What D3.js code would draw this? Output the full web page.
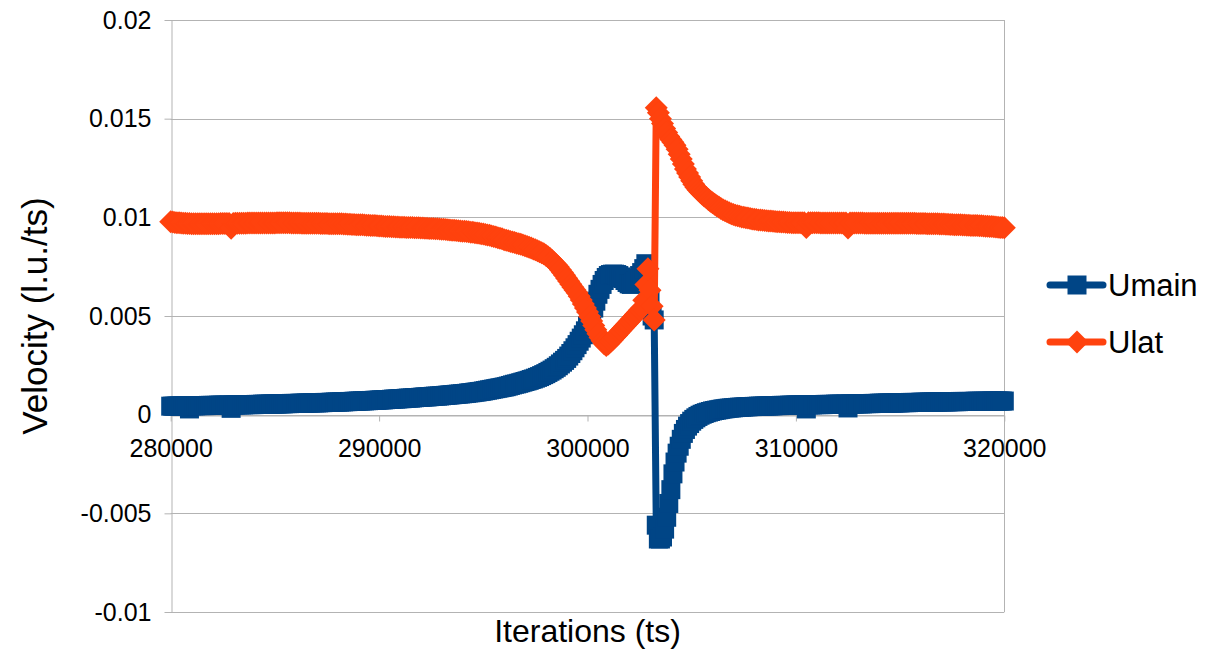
<!DOCTYPE html>
<html>
<head>
<meta charset="utf-8">
<script src="https://cdn.jsdelivr.net/npm/d3@7"></script>
<style>
  body { margin: 0; background: #ffffff; }
  text { font-family: "Liberation Sans", Arial, sans-serif; fill: #000; }
</style>
</head>
<body>
<svg id="chart" width="1210" height="650"></svg>
<script>
// Sampling of the run: one record every 100 iterations
const iterStart = 280000;
const iterEnd = 320000;
const iterStep = 100;

const xTicks = [280000, 290000, 300000, 310000, 320000];
const yTicks = [-0.01, -0.005, 0, 0.005, 0.01, 0.015, 0.02];
const seriesNames = ["Umain", "Ulat"];
const seriesColors = ["#004586", "#ff420e"];

// Main-channel velocity (l.u./ts), 280000 .. 320000 step 100
const umain = [
  0.00043,0.00043,0.00043,0.00044,0.00044,0.00044,0.00044,0.00044,0.00045,0.00029,
  0.00045,0.00045,0.00045,0.00046,0.00046,0.00046,0.00046,0.00046,0.00047,0.00047,
  0.00047,0.00047,0.00047,0.00048,0.00048,0.00048,0.00048,0.00048,0.00049,0.00032,
  0.00049,0.00049,0.0005,0.0005,0.0005,0.0005,0.00051,0.00051,0.00051,0.00051,
  0.00051,0.00052,0.00052,0.00052,0.00053,0.00053,0.00053,0.00053,0.00054,0.00054,
  0.00054,0.00054,0.00055,0.00055,0.00055,0.00056,0.00056,0.00056,0.00057,0.00057,
  0.00057,0.00057,0.00058,0.00058,0.00058,0.00059,0.00059,0.00059,0.0006,0.0006,
  0.0006,0.0006,0.00061,0.00061,0.00062,0.00062,0.00062,0.00063,0.00063,0.00064,
  0.00064,0.00064,0.00065,0.00065,0.00066,0.00066,0.00067,0.00067,0.00068,0.00068,
  0.00069,0.00069,0.0007,0.0007,0.00071,0.00071,0.00072,0.00072,0.00073,0.00073,
  0.00074,0.00075,0.00075,0.00076,0.00077,0.00077,0.00078,0.00079,0.00079,0.0008,
  0.00081,0.00081,0.00082,0.00083,0.00084,0.00084,0.00085,0.00086,0.00087,0.00087,
  0.00088,0.00089,0.0009,0.0009,0.00091,0.00092,0.00093,0.00094,0.00094,0.00095,
  0.00096,0.00097,0.00098,0.00099,0.001,0.00101,0.00102,0.00103,0.00104,0.00105,
  0.00106,0.00107,0.00108,0.0011,0.00111,0.00112,0.00114,0.00115,0.00117,0.00118,
  0.0012,0.00122,0.00124,0.00126,0.00128,0.0013,0.00132,0.00134,0.00136,0.00138,
  0.0014,0.00142,0.00145,0.00148,0.00151,0.00154,0.00156,0.00159,0.00162,0.00165,
  0.00168,0.00171,0.00174,0.00178,0.00181,0.00185,0.00189,0.00193,0.00198,0.00203,
  0.00208,0.00214,0.0022,0.00226,0.00233,0.0024,0.00248,0.00257,0.00266,0.00275,
  0.00285,0.00297,0.0031,0.00324,0.00339,0.00355,0.00372,0.00388,0.00405,0.00425,
  0.0045,0.0047,0.005,0.0054,0.00575,0.0061,0.00635,0.0066,0.0068,0.00695,
  0.00705,0.0071,0.00712,0.00712,0.0071,0.00705,0.00698,0.0069,0.0068,0.0067,
  0.00663,0.0066,0.00665,0.00675,0.0069,0.00705,0.0072,0.0074,0.00765,0.0068,
  0.0058,0.005,0.0048,-0.0056,-0.0063,-0.0063,-0.0062,-0.0058,-0.0052,-0.0045,
  -0.0038,-0.003,-0.0024,-0.00195,-0.0016,-0.00125,-0.00095,-0.00075,-0.00058,-0.00045,
  -0.00033,-0.00024,-0.00016,-0.00009,-0.00003,0.00002,0.00006,0.0001,0.00013,0.00016,
  0.00019,0.00021,0.00023,0.00025,0.00027,0.00029,0.0003,0.00032,0.00033,0.00034,
  0.00035,0.00036,0.00037,0.00038,0.00038,0.00039,0.0004,0.0004,0.00041,0.00041,
  0.00042,0.00042,0.00043,0.00043,0.00043,0.00044,0.00044,0.00044,0.00045,0.00045,
  0.00046,0.00046,0.00046,0.00047,0.00047,0.00047,0.00047,0.00048,0.00048,0.00048,
  0.00049,0.00049,0.00049,0.00049,0.0005,0.00029,0.0005,0.0005,0.0005,0.00051,
  0.00051,0.00051,0.00051,0.00051,0.00052,0.00052,0.00052,0.00052,0.00052,0.00053,
  0.00053,0.00053,0.00053,0.00053,0.00054,0.00034,0.00054,0.00054,0.00054,0.00055,
  0.00055,0.00055,0.00055,0.00056,0.00056,0.00056,0.00056,0.00057,0.00057,0.00057,
  0.00058,0.00058,0.00058,0.00058,0.00059,0.00059,0.00059,0.00059,0.0006,0.0006,
  0.0006,0.00061,0.00061,0.00061,0.00061,0.00062,0.00062,0.00062,0.00062,0.00062,
  0.00063,0.00063,0.00063,0.00063,0.00064,0.00064,0.00064,0.00064,0.00064,0.00065,
  0.00065,0.00065,0.00065,0.00065,0.00066,0.00066,0.00066,0.00066,0.00066,0.00067,
  0.00067,0.00067,0.00067,0.00067,0.00067,0.00067,0.00068,0.00068,0.00068,0.00068,
  0.00068,0.00068,0.00068,0.00068,0.00069,0.00069,0.00069,0.00069,0.00069,0.00069,
  0.00069
];

// Lateral-channel velocity (l.u./ts), 280000 .. 320000 step 100
const ulat = [
  0.00978,0.00976,0.00974,0.00973,0.00972,0.00971,0.0097,0.0097,0.00969,0.00969,
  0.00968,0.00968,0.00967,0.00967,0.00967,0.00967,0.00967,0.00968,0.00968,0.00968,
  0.00968,0.00968,0.00968,0.00968,0.00969,0.00969,0.00969,0.00969,0.00969,0.00945,
  0.00969,0.0097,0.0097,0.0097,0.0097,0.0097,0.0097,0.00971,0.00971,0.00971,
  0.00971,0.00971,0.00971,0.00971,0.00971,0.00971,0.00971,0.00971,0.00971,0.00971,
  0.00971,0.00972,0.00972,0.00972,0.00972,0.00972,0.00972,0.00972,0.00971,0.00971,
  0.00971,0.00971,0.00971,0.0097,0.0097,0.0097,0.0097,0.0097,0.0097,0.0097,
  0.0097,0.0097,0.00969,0.00969,0.00969,0.00969,0.00968,0.00968,0.00968,0.00968,
  0.00968,0.00967,0.00967,0.00966,0.00966,0.00965,0.00965,0.00964,0.00964,0.00963,
  0.00963,0.00962,0.00962,0.00961,0.0096,0.0096,0.00959,0.00958,0.00958,0.00957,
  0.00956,0.00956,0.00955,0.00954,0.00954,0.00953,0.00952,0.00952,0.00951,0.00951,
  0.0095,0.0095,0.0095,0.00949,0.00949,0.00948,0.00948,0.00947,0.00947,0.00947,
  0.00946,0.00946,0.00945,0.00945,0.00944,0.00944,0.00943,0.00942,0.00942,0.00941,
  0.0094,0.00939,0.00938,0.00937,0.00936,0.00935,0.00934,0.00933,0.00932,0.00931,
  0.0093,0.00929,0.00928,0.00927,0.00925,0.00924,0.00922,0.00921,0.00919,0.00917,
  0.00915,0.00913,0.00911,0.00909,0.00906,0.00903,0.009,0.00897,0.00894,0.00891,
  0.00887,0.00884,0.00881,0.00878,0.00875,0.00872,0.00869,0.00866,0.00863,0.0086,
  0.00856,0.00852,0.00848,0.00844,0.0084,0.00836,0.00831,0.00826,0.00821,0.00815,
  0.00808,0.008,0.00791,0.00781,0.0077,0.0076,0.00748,0.00735,0.00721,0.00706,
  0.00691,0.00676,0.00661,0.00646,0.00632,0.00618,0.006,0.00581,0.00561,0.0054,
  0.0052,0.00498,0.00475,0.00452,0.0043,0.0041,0.00391,0.00374,0.00359,0.0035,
  0.00358,0.00369,0.0038,0.00392,0.00403,0.00415,0.00426,0.00438,0.00449,0.00461,
  0.00472,0.00484,0.00495,0.00507,0.00518,0.0053,0.00541,0.0058,0.0066,0.0074,
  0.0063,0.0055,0.0048,0.01555,0.0153,0.015,0.01475,0.0145,0.0143,0.0141,
  0.01395,0.0138,0.01365,0.01345,0.0132,0.01295,0.0127,0.01245,0.01225,0.01205,
  0.01185,0.01168,0.01153,0.0114,0.01128,0.01118,0.01108,0.011,0.01091,0.01082,
  0.01074,0.01066,0.01059,0.01052,0.01045,0.01039,0.01033,0.01028,0.01023,0.01018,
  0.01014,0.01011,0.01008,0.01005,0.01002,0.01,0.00998,0.00996,0.00994,0.00992,
  0.0099,0.00989,0.00987,0.00986,0.00985,0.00984,0.00983,0.00982,0.00981,0.0098,
  0.00979,0.00978,0.00977,0.00976,0.00976,0.00975,0.00974,0.00974,0.00973,0.00973,
  0.00973,0.00973,0.00972,0.00972,0.00972,0.00948,0.00972,0.00972,0.00972,0.00972,
  0.00972,0.00972,0.00971,0.00971,0.00971,0.00971,0.00971,0.00971,0.00971,0.00971,
  0.00971,0.00971,0.00971,0.00971,0.00971,0.00946,0.00971,0.00971,0.00971,0.00971,
  0.00971,0.00971,0.00971,0.0097,0.0097,0.0097,0.0097,0.0097,0.0097,0.0097,
  0.0097,0.0097,0.0097,0.0097,0.0097,0.0097,0.0097,0.0097,0.0097,0.0097,
  0.0097,0.0097,0.0097,0.0097,0.0097,0.0097,0.0097,0.0097,0.00969,0.00969,
  0.00969,0.00969,0.00969,0.00968,0.00968,0.00968,0.00967,0.00967,0.00967,0.00966,
  0.00966,0.00966,0.00965,0.00965,0.00964,0.00964,0.00963,0.00963,0.00962,0.00962,
  0.00961,0.00961,0.0096,0.0096,0.00959,0.00959,0.00958,0.00958,0.00957,0.00957,
  0.00956,0.00955,0.00955,0.00954,0.00953,0.00952,0.00951,0.0095,0.00949,0.00948,
  0.00947
];

const iterations = d3.range(iterStart, iterEnd + 1, iterStep);
const series = [umain, ulat].map((vals, i) => ({
  name: seriesNames[i],
  color: seriesColors[i],
  marker: i === 0 ? "square" : "diamond",
  points: vals.map((v, j) => ({ it: iterations[j], v }))
}));

const svg = d3.select("#chart");
const gridColor = "#b3b3b3";

const x = d3.scaleLinear().domain([iterStart, iterEnd]).range([170.7, 1004.3]);
const y = d3.scaleLinear().domain([-0.01, 0.02]).range([612, 20]);

// Horizontal grid
svg.append("g")
  .selectAll("line")
  .data(yTicks)
  .join("line")
  .attr("x1", x.range()[0]).attr("x2", x.range()[1])
  .attr("y1", d => Math.round(y(d)) + 0.5).attr("y2", d => Math.round(y(d)) + 0.5)
  .attr("stroke", gridColor).attr("stroke-width", 1);

// Right frame edge
svg.append("line")
  .attr("x1", Math.round(x.range()[1]) + 0.5).attr("x2", Math.round(x.range()[1]) + 0.5)
  .attr("y1", y(0.02)).attr("y2", y(-0.01))
  .attr("stroke", gridColor);

// Y axis
const yAxis = svg.append("g")
  .attr("transform", `translate(${Math.round(x.range()[0]) + 0.5},0)`)
  .call(d3.axisLeft(y).tickValues(yTicks).tickSize(7).tickSizeOuter(0).tickPadding(13)
    .tickFormat(d => String(d)));
yAxis.select(".domain").attr("stroke", gridColor);
yAxis.selectAll(".tick line").attr("stroke", gridColor);
yAxis.selectAll(".tick text").attr("font-size", 25).attr("font-family", "Liberation Sans, Arial, sans-serif");

// X axis crossing at zero
const xAxis = svg.append("g")
  .attr("transform", `translate(0,${Math.round(y(0)) + 0.5})`)
  .call(d3.axisBottom(x).tickValues(xTicks).tickSize(6).tickSizeOuter(0).tickPadding(18)
    .tickFormat(d => String(d)));
xAxis.select(".domain").attr("stroke", gridColor);
xAxis.selectAll(".tick line").attr("stroke", gridColor);
xAxis.selectAll(".tick text").attr("font-size", 25).attr("font-family", "Liberation Sans, Arial, sans-serif");

// Axis titles
svg.append("text")
  .attr("x", (x.range()[0] + x.range()[1]) / 2).attr("y", 642)
  .attr("text-anchor", "middle").attr("font-size", 32)
  .text("Iterations (ts)");
svg.append("text")
  .attr("transform", `translate(47,${(y(0.02) + y(-0.01)) / 2}) rotate(-90)`)
  .attr("text-anchor", "middle").attr("font-size", 35)
  .text("Velocity (l.u./ts)");

// Marker shapes
const markerPath = {
  square: "M-9.5,-9.5h19v19h-19Z",
  diamond: "M0,-11.5L11.5,0L0,11.5L-11.5,0Z"
};

const line = d3.line().x(d => x(d.it)).y(d => y(d.v));

// Series: connecting line plus a symbol at every record
const sg = svg.append("g").selectAll("g").data(series).join("g");
sg.append("path")
  .attr("d", d => line(d.points))
  .attr("fill", "none")
  .attr("stroke", d => d.color)
  .attr("stroke-width", 7)
  .attr("stroke-linejoin", "round");
sg.each(function (s) {
  d3.select(this).append("g")
    .selectAll("path")
    .data(s.points)
    .join("path")
    .attr("transform", d => `translate(${x(d.it)},${y(d.v)})`)
    .attr("d", markerPath[s.marker])
    .attr("fill", s.color);
});

// Legend
const legend = svg.append("g").selectAll("g").data(series).join("g")
  .attr("transform", (d, i) => `translate(1047,${285 + i * 57})`);
legend.append("line")
  .attr("x1", 3).attr("x2", 56).attr("y1", 0).attr("y2", 0)
  .attr("stroke", d => d.color).attr("stroke-width", 7).attr("stroke-linecap", "round");
legend.append("path")
  .attr("transform", "translate(30,0)")
  .attr("d", d => markerPath[d.marker])
  .attr("fill", d => d.color);
legend.append("text")
  .attr("x", 61).attr("y", 0).attr("dy", "0.36em")
  .attr("font-size", 31)
  .text(d => d.name);
</script>
</body>
</html>
